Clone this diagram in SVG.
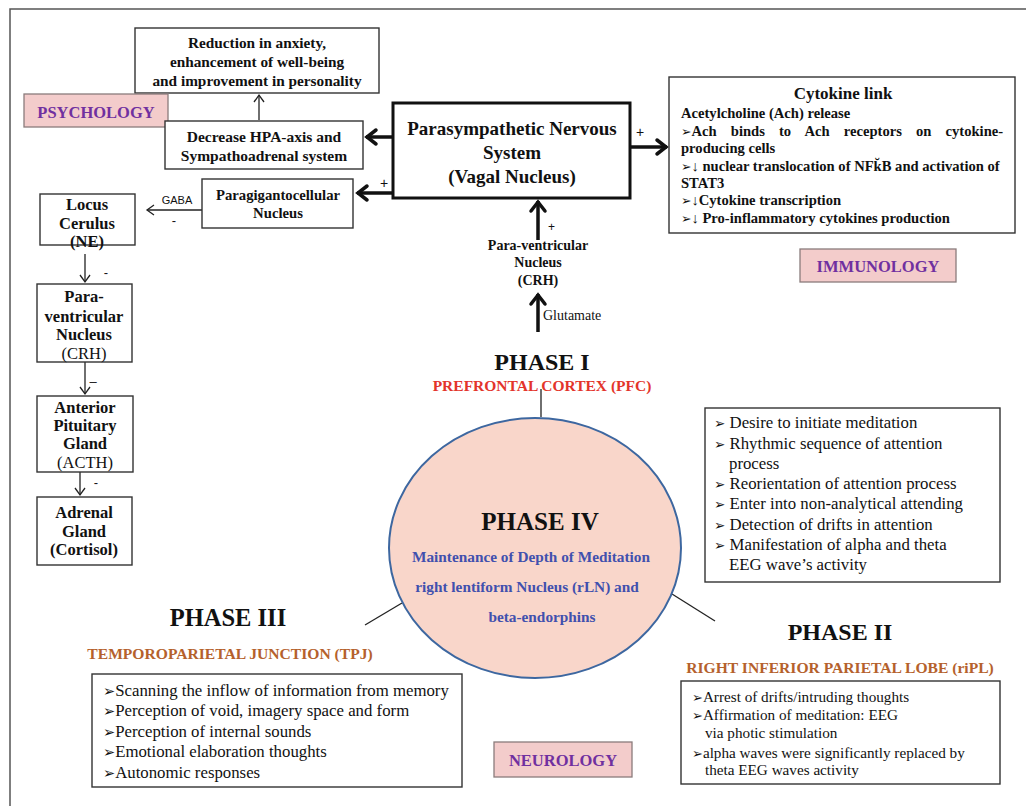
<svg xmlns="http://www.w3.org/2000/svg" width="1026" height="806" viewBox="0 0 1026 806">
<style>
text{font-family:"Liberation Serif","Times New Roman",serif;fill:#111}
.b{font-weight:bold}
.c{text-anchor:middle}
.box{fill:#fff;stroke:#333;stroke-width:1.4}
.pink{fill:#f3cccb;stroke:#8a7c7c;stroke-width:1.3}
.tag{font-weight:bold;font-size:16.5px;fill:#7030a0;text-anchor:middle}
.thin{stroke:#222;stroke-width:1.3;fill:none;marker-end:url(#ah)}
.thick{stroke:#111;stroke-width:3.5;fill:none;marker-end:url(#AH)}
.ln{stroke:#222;stroke-width:1.3;fill:none}
.sans{font-family:"Liberation Sans",Arial,sans-serif}
.bl{font-family:"DejaVu Sans",sans-serif}
.cyt{font-weight:bold;font-size:14.6px}
.blue{font-weight:bold;font-size:15.3px;fill:#4150ae;text-anchor:middle}
.brown{font-weight:bold;font-size:15.6px;fill:#b5612c;text-anchor:middle}
</style>
<defs>
<marker id="ah" markerUnits="userSpaceOnUse" viewBox="-10 -8 12 16" refX="0" refY="0" markerWidth="12" markerHeight="16" orient="auto">
<path d="M-7,-5 L0,0 L-7,5" fill="none" stroke="#222" stroke-width="1.3"/>
</marker>
<marker id="AH" markerUnits="userSpaceOnUse" viewBox="-14 -10 16 20" refX="0" refY="0" markerWidth="16" markerHeight="20" orient="auto">
<path d="M-10,-7 L-1,0 L-10,7" fill="none" stroke="#111" stroke-width="3.5" stroke-linecap="round"/>
</marker>
</defs>
<rect width="1026" height="806" fill="#fff"/>
<path d="M10,806 L10,9 L1026,9" fill="none" stroke="#555" stroke-width="1.5"/>

<g id="connectors">
<path class="thin" d="M259,120 L259,95"/>
<path class="thick" d="M393,137 L366,137"/>
<path class="thick" d="M393,193 L357,193"/>
<path class="thin" d="M202,210 L147,210"/>
<path class="thin" d="M85,254 L85,282"/>
<path class="thin" d="M85,362 L85,394"/>
<path class="thin" d="M80,472 L80,495"/>
<path class="thick" d="M630,147 L667,147"/>
<path class="thick" d="M538,240 L538,201"/>
<path class="thick" d="M538,332 L538,294"/>
<path class="ln" d="M541,389 L541,417"/>
<path class="ln" d="M365,625 L402,603"/>
<path class="ln" d="M672,594 L715,621"/>
<text x="380" y="188" class="sans" font-size="14">+</text>
<text x="636" y="137" class="sans" font-size="14">+</text>
<text x="548" y="231" class="sans" font-size="12">+</text>
<text x="177" y="204" class="sans c" font-size="11">GABA</text>
<text x="174" y="225" class="sans c" font-size="13">-</text>
<text x="106" y="277" class="sans c" font-size="13">-</text>
<text x="93" y="386" class="sans c" font-size="13">–</text>
<text x="96" y="487" class="sans c" font-size="13">-</text>
<text x="543" y="320" font-size="14">Glutamate</text>
</g>

<g id="reduction">
<rect class="box" x="135" y="28" width="244" height="65"/>
<text class="b c" x="257" y="48" font-size="15.3">Reduction in anxiety,</text>
<text class="b c" x="257" y="67" font-size="15.3">enhancement of well-being</text>
<text class="b c" x="257" y="86" font-size="15.3">and improvement in personality</text>
</g>

<g id="psychology">
<rect class="pink" x="24" y="94" width="144" height="33"/>
<text class="tag" x="96" y="118">PSYCHOLOGY</text>
</g>

<g id="decrease">
<rect class="box" x="165" y="121" width="198" height="48" stroke-width="1.8"/>
<text class="b c" x="264" y="142" font-size="15.5">Decrease HPA-axis and</text>
<text class="b c" x="264" y="161" font-size="15.5">Sympathoadrenal  system</text>
</g>

<g id="parasympathetic">
<rect x="393" y="103" width="237" height="95" fill="#fff" stroke="#111" stroke-width="3"/>
<text class="b c" x="512" y="135" font-size="19">Parasympathetic  Nervous</text>
<text class="b c" x="512" y="159" font-size="19">System</text>
<text class="b c" x="512" y="183" font-size="19">(Vagal Nucleus)</text>
</g>

<g id="paragigantocellular">
<rect class="box" x="202" y="179" width="151" height="49"/>
<text class="b c" x="278" y="200" font-size="14.7">Paragigantocellular</text>
<text class="b c" x="278" y="218" font-size="14.7">Nucleus</text>
</g>

<g id="locus">
<rect class="box" x="40" y="194" width="95" height="51"/>
<text class="b c" x="87" y="210" font-size="16.5">Locus</text>
<text class="b c" x="87" y="229" font-size="16.5">Cerulus</text>
<text class="b c" x="87" y="247" font-size="16.5">(NE)</text>
</g>

<g id="pvn-left">
<rect class="box" x="37" y="284" width="95" height="78"/>
<text class="b c" x="84" y="302" font-size="16.5">Para-</text>
<text class="b c" x="84" y="322" font-size="16.5">ventricular</text>
<text class="b c" x="84" y="340" font-size="16.5">Nucleus</text>
<text class="c" x="84" y="359" font-size="16.5">(CRH)</text>
</g>

<g id="pituitary">
<rect class="box" x="37" y="396" width="96" height="76"/>
<text class="b c" x="85" y="413" font-size="16.5">Anterior</text>
<text class="b c" x="85" y="431" font-size="16.5">Pituitary</text>
<text class="b c" x="85" y="449" font-size="16.5">Gland</text>
<text class="c" x="85" y="468" font-size="16.5">(ACTH)</text>
</g>

<g id="adrenal">
<rect class="box" x="37" y="497" width="95" height="68"/>
<text class="b c" x="84" y="518" font-size="16.5">Adrenal</text>
<text class="b c" x="84" y="537" font-size="16.5">Gland</text>
<text class="b c" x="84" y="555" font-size="16.5">(Cortisol)</text>
</g>

<g id="pvn-center">
<text class="b c" x="538" y="250" font-size="14">Para-ventricular</text>
<text class="b c" x="538" y="267" font-size="14">Nucleus</text>
<text class="b c" x="538" y="285" font-size="14">(CRH)</text>
</g>

<g id="cytokine">
<rect class="box" x="669" y="77" width="346" height="156" stroke-width="2"/>
<text class="b c" x="843" y="99" font-size="17">Cytokine link</text>
<text class="cyt" x="681" y="118">Acetylcholine (Ach) release</text>
<text class="cyt" x="681" y="136" word-spacing="10.5"><tspan class="bl" font-size="12.5" word-spacing="0">➢</tspan>Ach binds to Ach receptors on cytokine-</text>
<text class="cyt" x="681" y="153">producing cells</text>
<text class="cyt" x="681" y="171"><tspan class="bl" font-size="12.5">➢</tspan>↓ nuclear translocation of NFk̆B and activation of</text>
<text class="cyt" x="681" y="188">STAT3</text>
<text class="cyt" x="681" y="205"><tspan class="bl" font-size="12.5">➢</tspan>↓Cytokine transcription</text>
<text class="cyt" x="681" y="223"><tspan class="bl" font-size="12.5">➢</tspan>↓ Pro-inflammatory cytokines production</text>
</g>

<g id="immunology">
<rect class="pink" x="800" y="249" width="156" height="33"/>
<text class="tag" x="878" y="272">IMMUNOLOGY</text>
</g>

<g id="phase1">
<text class="b c" x="542" y="370" font-size="24">PHASE I</text>
<text class="b c" x="542" y="391" font-size="15.5" style="fill:#e3342b">PREFRONTAL CORTEX (PFC)</text>
</g>

<g id="phase1-list">
<rect class="box" x="705" y="408" width="295" height="174" stroke-width="1.6"/>
<g font-size="16.8">
<text x="714" y="428"><tspan class="bl" font-size="13.5">➢</tspan> Desire to initiate  meditation</text>
<text x="714" y="449"><tspan class="bl" font-size="13.5">➢</tspan> Rhythmic sequence of attention</text>
<text x="729" y="469">process</text>
<text x="714" y="489"><tspan class="bl" font-size="13.5">➢</tspan> Reorientation of attention process</text>
<text x="714" y="509"><tspan class="bl" font-size="13.5">➢</tspan> Enter into non-analytical attending</text>
<text x="714" y="530"><tspan class="bl" font-size="13.5">➢</tspan> Detection of drifts in attention</text>
<text x="714" y="550"><tspan class="bl" font-size="13.5">➢</tspan> Manifestation of alpha and theta</text>
<text x="729" y="570">EEG wave’s activity</text>
</g>
</g>

<g id="phase4">
<ellipse cx="535" cy="548" rx="146" ry="130" fill="#f9d6ca" stroke="#3d67a0" stroke-width="2"/>
<text class="b c" x="540" y="530" font-size="25">PHASE IV</text>
<text class="blue" x="531" y="562">Maintenance of Depth of Meditation</text>
<text class="blue" x="527" y="592">right lentiform Nucleus (rLN) and</text>
<text class="blue" x="542" y="622">beta-endorphins</text>
</g>

<g id="phase3">
<text class="b c" x="228" y="626" font-size="24.5">PHASE III</text>
<text class="brown" x="230" y="659">TEMPOROPARIETAL JUNCTION (TPJ)</text>
<rect class="box" x="92" y="674" width="370" height="113" stroke-width="1.8"/>
<g font-size="16.8">
<text x="103" y="696"><tspan class="bl" font-size="14.5">➢</tspan>Scanning the inflow of information from memory</text>
<text x="103" y="716"><tspan class="bl" font-size="14.5">➢</tspan>Perception of void, imagery space and form</text>
<text x="103" y="737"><tspan class="bl" font-size="14.5">➢</tspan>Perception of internal sounds</text>
<text x="103" y="757"><tspan class="bl" font-size="14.5">➢</tspan>Emotional elaboration thoughts</text>
<text x="103" y="778"><tspan class="bl" font-size="14.5">➢</tspan>Autonomic responses</text>
</g>
</g>

<g id="phase2">
<text class="b c" x="840" y="640" font-size="24">PHASE II</text>
<text class="brown" x="840" y="673">RIGHT INFERIOR PARIETAL LOBE (riPL)</text>
<rect class="box" x="681" y="681" width="319" height="103" stroke-width="1.8"/>
<g font-size="15.2">
<text x="692" y="702"><tspan class="bl" font-size="13">➢</tspan>Arrest of drifts/intruding thoughts</text>
<text x="692" y="720"><tspan class="bl" font-size="13">➢</tspan>Affirmation of meditation: EEG</text>
<text x="705" y="738">via photic stimulation</text>
<text x="692" y="758"><tspan class="bl" font-size="13">➢</tspan>alpha waves were significantly replaced by</text>
<text x="705" y="775">theta EEG  waves activity</text>
</g>
</g>

<g id="neurology">
<rect class="pink" x="494" y="742" width="138" height="35"/>
<text class="tag" x="563" y="766">NEUROLOGY</text>
</g>
</svg>
